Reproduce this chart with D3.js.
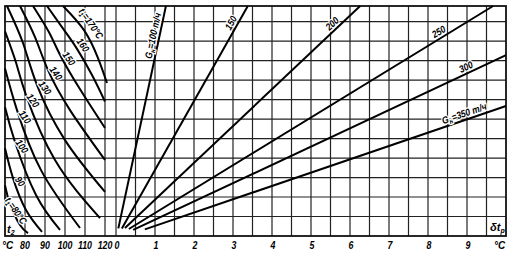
<!DOCTYPE html>
<html>
<head>
<meta charset="utf-8">
<script src="https://cdn.jsdelivr.net/npm/d3@7"></script>
<style>
body { margin: 0; background: #fff; }
text { font-family: "Liberation Sans", Arial, sans-serif; font-style: italic; font-weight: bold; fill: #000; }
</style>
</head>
<body>
<svg id="chart" width="512" height="253"></svg>
<script>
// left quadrant: t2 axis, right quadrant: delta t_p axis
var t2Ticks = [80, 90, 100, 110, 120];
var dtTicks = [0, 1, 2, 3, 4, 5, 6, 7, 8, 9];

// t1 curves, points are [t2, y]
var t1Values = [80, 90, 100, 110, 120, 130, 140, 150, 160, 170];
var t1Curves = [
    [[70, 2.6], [72.5, 1.65], [77.5, 0.56], [81.5, 0.15]],
    [[70, 4.5], [74, 2.97], [80.5, 1.33], [88.5, 0.21]],
    [[70, 6.6], [75, 4.82], [85.5, 2.10], [97.5, 0.31]],
    [[70, 8.6], [76, 6.46], [88, 3.38], [107.5, 0.41]],
    [[70, 10.5], [75.5, 8.9], [80.5, 7.23], [95, 3.9], [117.5, 0.92]],
    [[71, 11.8], [79, 9.9], [86, 7.74], [100, 4.92], [120, 2.26]],
    [[77.5, 11.8], [85, 10.2], [91.5, 8.51], [102.5, 6.46], [120, 3.9]],
    [[84, 11.8], [92, 10.45], [98, 9.2], [108, 7.45], [120, 5.54]],
    [[91, 11.8], [100, 10.5], [106, 9.6], [113.5, 8.26], [120, 6.9]],
    [[99, 11.8], [109.5, 10.56], [116.5, 9.13], [121, 7.85]]
];
// label centre for each t1 curve: [t2, y]
var t1LabelPos = [[75.5, 1.3], [77.5, 2.8], [78.5, 4.6], [80, 6.1], [84, 6.95],
    [90, 7.6], [95.5, 8.35], [102, 9.1], [109, 9.8], [113, 10.9]];

// G_w lines, [dt, y] start and end
var gwValues = [100, 150, 200, 250, 300, 350];
var gwLines = [
    [[0.06, 0.39], [1.28, 11.8]],
    [[0.15, 0.39], [3.38, 11.8]],
    [[0.23, 0.41], [6.26, 11.8]],
    [[0.33, 0.36], [9.67, 11.8]],
    [[0.44, 0.31], [10, 9.28]],
    [[0.74, 0.34], [10, 6.67]]
];
// where the label sits on each G_w line (fraction along it)
var gwLabelAt = [0.86, 0.91, 0.9, 0.86, 0.9, 0.89];

var svg = d3.select("#chart");
var xL = d3.scaleLinear().domain([70, 120]).range([5, 105]);
var xR = d3.scaleLinear().domain([0, 10]).range([116, 506]);
var y = d3.scaleLinear().domain([0, 11.8]).range([236, 6]);

var grid = svg.append("g").attr("stroke", "#222").attr("stroke-width", 1.2);
grid.selectAll(".hl").data(d3.range(1, 12)).enter().append("line")
    .attr("x1", 5).attr("x2", 506)
    .attr("y1", function (d) { return y(d); }).attr("y2", function (d) { return y(d); });
grid.selectAll(".vl").data(t2Ticks).enter().append("line")
    .attr("x1", function (d) { return xL(d); }).attr("x2", function (d) { return xL(d); })
    .attr("y1", 6).attr("y2", 236);
grid.selectAll(".vr").data(d3.range(0, 10, 0.5)).enter().append("line")
    .attr("x1", function (d) { return xR(d); }).attr("x2", function (d) { return xR(d); })
    .attr("y1", 6).attr("y2", 236);
svg.append("rect").attr("x", 5).attr("y", 6).attr("width", 501).attr("height", 230)
    .attr("fill", "none").attr("stroke", "#111").attr("stroke-width", 1.8);

var lineL = d3.line().curve(d3.curveNatural)
    .x(function (d) { return xL(d[0]); }).y(function (d) { return y(d[1]); });
var lineR = d3.line()
    .x(function (d) { return xR(d[0]); }).y(function (d) { return y(d[1]); });

svg.append("g").selectAll("path").data(t1Curves).enter().append("path")
    .attr("d", lineL).attr("fill", "none").attr("stroke", "#000").attr("stroke-width", 2);
svg.append("g").selectAll("path").data(gwLines).enter().append("path")
    .attr("d", lineR).attr("fill", "none").attr("stroke", "#000").attr("stroke-width", 2);

// curve labels with white halo
function halo(sel) {
    sel.attr("stroke", "#fff").attr("stroke-width", 2.5).attr("paint-order", "stroke");
}
var t1Lab = svg.append("g").selectAll("text").data(t1Values).enter().append("text")
    .attr("font-size", 10).attr("text-anchor", "middle").attr("dy", "0.35em")
    .attr("transform", function (d, i) {
        var p = t1LabelPos[i];
        return "translate(" + xL(p[0]) + "," + y(p[1]) + ") rotate(55) scale(0.85,1)";
    })
    .call(halo);
t1Lab.each(function (d, i) {
    var t = d3.select(this);
    if (i == 0 || i == t1Values.length - 1) {
        t.append("tspan").text("t");
        t.append("tspan").attr("font-size", 7).attr("dy", 2).text("1");
        t.append("tspan").attr("dy", -2).text("=" + d + "°C");
    } else {
        t.text(d);
    }
});

var gwLab = svg.append("g").selectAll("text").data(gwValues).enter().append("text")
    .attr("font-size", 10).attr("text-anchor", "middle")
    .attr("transform", function (d, i) {
        var a = gwLines[i][0], b = gwLines[i][1], f = gwLabelAt[i];
        var x0 = xR(a[0]), y0 = y(a[1]), x1 = xR(b[0]), y1 = y(b[1]);
        var ang = Math.atan2(y1 - y0, x1 - x0) * 180 / Math.PI;
        return "translate(" + (x0 + f * (x1 - x0)) + "," + (y0 + f * (y1 - y0)) + ") rotate(" + ang + ") translate(0,-3) scale(0.85,1)";
    })
    .call(halo);
gwLab.each(function (d, i) {
    var t = d3.select(this);
    if (i == 0 || i == gwValues.length - 1) {
        t.append("tspan").text("G");
        t.append("tspan").attr("font-size", 7).attr("dy", 2).text("н");
        t.append("tspan").attr("dy", -2).text("=" + d + " т/ч");
    } else {
        t.text(d);
    }
});

// bottom tick labels
svg.append("g").selectAll("text").data(t2Ticks).enter().append("text")
    .attr("transform", function (d) { return "translate(" + xL(d) + ",249) scale(0.8,1)"; })
    .attr("text-anchor", "middle").attr("font-size", 11)
    .text(function (d) { return d; });
svg.append("g").selectAll("text").data(dtTicks).enter().append("text")
    .attr("transform", function (d) { return "translate(" + (xR(d) + 1) + ",249) scale(0.8,1)"; })
    .attr("text-anchor", "middle").attr("font-size", 11)
    .text(function (d) { return d; });
svg.append("text").attr("x", 2).attr("y", 249).attr("font-size", 10).text("°C");
svg.append("text").attr("x", 494).attr("y", 249).attr("font-size", 10).text("°C");
svg.append("text").attr("x", 7).attr("y", 233).attr("font-size", 11)
    .html("t<tspan font-size='7' dy='2'>2</tspan>");
svg.append("text").attr("x", 490).attr("y", 231).attr("font-size", 11)
    .html("δt<tspan font-size='7' dy='2'>p</tspan>");
</script>
</body>
</html>
